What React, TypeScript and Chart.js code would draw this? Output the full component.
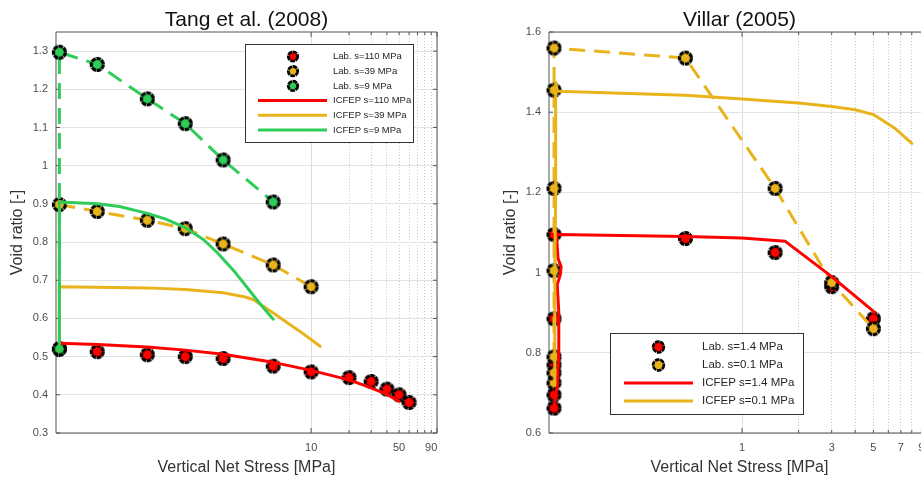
import React, { useEffect, useRef } from 'react';
import { Chart, registerables } from 'chart.js';

Chart.register(...registerables);

const FONT = '"Liberation Sans", Arial, Helvetica, sans-serif';

const RED = '#ff0000';
const YEL = '#e9b31c';
const GRN = '#2ecc58';

// ---------- Tang et al. (2008) ----------
const tangXTicks = [10, 20, 30, 40, 50, 60, 70, 80, 90, 100];
const tangXLabels = [10, 50, 90];
const tangYTicks = [0.3, 0.4, 0.5, 0.6, 0.7, 0.8, 0.9, 1, 1.1, 1.2, 1.3];

const tangLab110X = [0.1, 0.2, 0.5, 1, 2, 5, 10, 20, 30, 40, 50, 60];
const tangLab110Y = [0.52, 0.513, 0.505, 0.5, 0.495, 0.475, 0.46, 0.445, 0.435, 0.415, 0.4, 0.38];
const tangLab39X = [0.1, 0.2, 0.5, 1, 2, 5, 10];
const tangLab39Y = [0.898, 0.88, 0.857, 0.835, 0.795, 0.74, 0.683];
const tangLab9X = [0.1, 0.1, 0.2, 0.5, 1, 2, 5];
const tangLab9Y = [0.52, 1.297, 1.265, 1.175, 1.11, 1.015, 0.905];

const tangIcfep110X = [0.1, 0.2, 0.5, 1, 2, 5, 10, 20, 30, 40, 50];
const tangIcfep110Y = [0.535, 0.532, 0.525, 0.517, 0.506, 0.485, 0.464, 0.439, 0.418, 0.401, 0.383];
const tangIcfep39X = [0.1, 0.1, 0.5, 1, 2, 3, 3.5, 5, 8, 11.8];
const tangIcfep39Y = [0.52, 0.683, 0.68, 0.676, 0.667, 0.656, 0.649, 0.614, 0.568, 0.527];
const tangIcfep9X = [0.1, 0.1, 0.2, 0.3, 0.5, 0.7, 1, 1.4, 1.8, 2.5, 3.3, 4, 5];
const tangIcfep9Y = [0.52, 0.905, 0.9, 0.893, 0.875, 0.86, 0.838, 0.806, 0.772, 0.72, 0.67, 0.635, 0.598];

// ---------- Villar (2005) ----------
const villarXTicks = [1, 2, 3, 4, 5, 6, 7, 8, 9, 10];
const villarXLabels = [1, 3, 5, 7, 9];
const villarYTicks = [0.6, 0.8, 1, 1.2, 1.4, 1.6];

const villarLab14X = [0.1, 0.1, 0.1, 0.1, 0.1, 0.5, 1.5, 3, 5];
const villarLab14Y = [0.662, 0.695, 0.77, 0.885, 1.095, 1.085, 1.05, 0.965, 0.885];
const villarLab01X = [0.1, 0.1, 0.1, 0.1, 0.1, 0.1, 0.1, 0.5, 1.5, 3, 5];
const villarLab01Y = [0.725, 0.75, 0.79, 1.005, 1.21, 1.455, 1.56, 1.535, 1.21, 0.975, 0.86];

const villarIcfep14X = [0.1, 0.104, 0.106, 0.106, 0.104, 0.108, 0.109, 0.105, 0.103, 0.5, 1, 1.7, 3, 5.1];
const villarIcfep14Y = [0.66, 0.72, 0.8, 0.9, 0.97, 0.995, 1.015, 1.035, 1.095, 1.09, 1.086, 1.078, 0.99, 0.9];
const villarIcfep01X = [0.1, 0.101, 0.101, 0.102, 0.102, 0.104, 0.5, 1, 2, 3, 4, 5, 6.5, 8];
const villarIcfep01Y = [0.72, 0.8, 1.0, 1.2, 1.475, 1.452, 1.442, 1.433, 1.423, 1.414, 1.406, 1.394, 1.36, 1.322];

type Series = {
  label: string;
  xs: number[];
  ys: number[];
  color: string;
  kind: 'lab' | 'icfep';
  dashed?: boolean;
  order: number;
};

const MARKER_DASH = [4.6, 0.7];

function markerImage(color: string, r: number, bw: number): HTMLCanvasElement {
  const size = Math.ceil(2 * (r + bw)) + 2;
  const c = document.createElement('canvas');
  c.width = size;
  c.height = size;
  const g = c.getContext('2d') as CanvasRenderingContext2D;
  const m = size / 2;
  g.beginPath();
  g.arc(m, m, r, 0, Math.PI * 2);
  g.fillStyle = color;
  g.fill();
  g.setLineDash(MARKER_DASH);
  g.lineWidth = bw;
  g.strokeStyle = '#000';
  g.stroke();
  return c;
}

function buildDataset(s: Series): any {
  const isLab = s.kind === 'lab';
  return {
    label: s.label,
    data: s.xs.map((x, i) => ({ x, y: s.ys[i] })),
    showLine: !isLab || !!s.dashed,
    borderColor: s.color,
    backgroundColor: s.color,
    borderWidth: 3,
    borderDash: isLab ? [16, 9] : [],
    borderCapStyle: isLab ? 'butt' : 'round',
    borderJoinStyle: 'round',
    pointStyle: isLab ? markerImage(s.color, 6, 3.2) : 'circle',
    pointRadius: isLab ? 7.6 : 0,
    pointHoverRadius: isLab ? 7.6 : 0,
    pointBorderWidth: 0,
    pointBackgroundColor: s.color,
    pointBorderColor: '#000',
    tension: 0,
    clip: false,
    order: s.order,
    legendKind: isLab ? 'marker' : 'line',
  };
}

const framePlugin = {
  id: 'frame',
  beforeDatasetsDraw(chart: any, _a: any, opts: any) {
    const { ctx, chartArea } = chart;
    const { left, right, top, bottom } = chartArea;
    const xs = chart.scales.x;
    const ys = chart.scales.y;
    ctx.save();
    ctx.strokeStyle = '#555555';
    ctx.lineWidth = 1;
    ctx.beginPath();
    ctx.rect(left, top, right - left, bottom - top);
    ctx.stroke();
    ctx.beginPath();
    xs.ticks.forEach((t: any) => {
      const p = xs.getPixelForValue(t.value);
      const len = opts.majorX.includes(t.value) ? 5 : 3;
      ctx.moveTo(p, bottom);
      ctx.lineTo(p, bottom - len);
      ctx.moveTo(p, top);
      ctx.lineTo(p, top + len);
    });
    ys.ticks.forEach((t: any) => {
      const p = ys.getPixelForValue(t.value);
      ctx.moveTo(left, p);
      ctx.lineTo(left + 4, p);
      ctx.moveTo(right, p);
      ctx.lineTo(right - 4, p);
    });
    ctx.stroke();
    ctx.restore();
  },
  afterDraw(chart: any, _a: any, opts: any) {
    const { ctx, chartArea } = chart;
    ctx.save();
    ctx.font = `21px ${FONT}`;
    ctx.fillStyle = '#111111';
    ctx.textAlign = 'center';
    ctx.textBaseline = 'alphabetic';
    ctx.fillText(opts.title, (chartArea.left + chartArea.right) / 2, 26);
    ctx.restore();
  },
};

const boxLegendPlugin = {
  id: 'boxLegend',
  afterDatasetsDraw(chart: any, _a: any, opts: any) {
    const ctx = chart.ctx;
    const [x0, y0, x1, y1] = opts.box;
    ctx.save();
    ctx.fillStyle = '#ffffff';
    ctx.fillRect(x0, y0, x1 - x0, y1 - y0);
    ctx.strokeStyle = '#333333';
    ctx.lineWidth = 1;
    ctx.strokeRect(x0 + 0.5, y0 + 0.5, x1 - x0, y1 - y0);
    chart.data.datasets.forEach((ds: any, i: number) => {
      const y = opts.rows[i];
      if (ds.legendKind === 'marker') {
        ctx.beginPath();
        ctx.arc(opts.markerX, y, opts.markerR, 0, Math.PI * 2);
        ctx.fillStyle = ds.pointBackgroundColor;
        ctx.fill();
        ctx.setLineDash(MARKER_DASH);
        ctx.lineWidth = opts.markerBW;
        ctx.strokeStyle = '#000';
        ctx.stroke();
        ctx.setLineDash([]);
      } else {
        ctx.beginPath();
        ctx.moveTo(opts.lineX0, y);
        ctx.lineTo(opts.lineX1, y);
        ctx.lineWidth = 3;
        ctx.strokeStyle = ds.borderColor;
        ctx.stroke();
      }
      ctx.font = `${opts.fontSize}px ${FONT}`;
      ctx.fillStyle = '#262626';
      ctx.textAlign = 'left';
      ctx.textBaseline = 'middle';
      ctx.fillText(ds.label, opts.textX, y);
    });
    ctx.restore();
  },
};

type PanelCfg = {
  title: string;
  series: Series[];
  xMin: number;
  xMax: number;
  xTicks: number[];
  xLabels: number[];
  xMajor: number;
  yMin: number;
  yMax: number;
  yTicks: number[];
  legend: any;
};

function makeConfig(p: PanelCfg): any {
  return {
    type: 'scatter',
    data: { datasets: p.series.map(buildDataset) },
    plugins: [framePlugin, boxLegendPlugin],
    options: {
      responsive: false,
      animation: false,
      devicePixelRatio: 1,
      events: [],
      layout: { padding: { left: 0, top: 32, right: 23, bottom: 0 } },
      plugins: {
        legend: { display: false },
        title: { display: false },
        tooltip: { enabled: false },
        frame: { title: p.title, majorX: [p.xMajor, p.xTicks[p.xTicks.length - 1]] },
        boxLegend: p.legend,
      },
      scales: {
        x: {
          type: 'logarithmic',
          position: 'bottom',
          min: p.xMin,
          max: p.xMax,
          afterBuildTicks: (s: any) => {
            s.ticks = p.xTicks.map((v) => ({ value: v }));
          },
          afterFit: (s: any) => {
            s.height = 44;
          },
          ticks: {
            autoSkip: false,
            maxRotation: 0,
            minRotation: 0,
            padding: 8,
            color: '#4d4d4d',
            font: { family: FONT, size: 11 },
            callback: (v: any) => (p.xLabels.includes(Number(v)) ? String(v) : ''),
          },
          grid: {
            drawTicks: false,
            lineWidth: 1,
            color: (c: any) => (c.tick && c.tick.value === p.xMajor ? '#dcdcdc' : '#c9c9c9'),
          },
          border: {
            display: false,
            dash: (c: any) => (c.tick && c.tick.value !== p.xMajor ? [1, 2] : []),
          },
          title: {
            display: true,
            text: 'Vertical Net Stress [MPa]',
            color: '#333333',
            font: { family: FONT, size: 16 },
            padding: { top: 0, bottom: 0 },
          },
        },
        y: {
          type: 'linear',
          min: p.yMin,
          max: p.yMax,
          afterBuildTicks: (s: any) => {
            s.ticks = p.yTicks.map((v) => ({ value: v }));
          },
          afterFit: (s: any) => {
            s.width = 56;
          },
          ticks: {
            padding: 8,
            color: '#4d4d4d',
            font: { family: FONT, size: 11 },
            callback: (v: any) => String(Math.round(Number(v) * 10) / 10),
          },
          grid: { drawTicks: false, lineWidth: 1, color: '#e2e2e2' },
          border: { display: false },
          title: {
            display: true,
            text: 'Void ratio [-]',
            color: '#333333',
            font: { family: FONT, size: 16 },
            padding: { top: 8, bottom: 0 },
          },
        },
      },
    },
  };
}

const tangPanel: PanelCfg = {
  title: 'Tang et al. (2008)',
  series: [
    { label: 'Lab. s=110 MPa', xs: tangLab110X, ys: tangLab110Y, color: RED, kind: 'lab', order: 5 },
    { label: 'Lab. s=39 MPa', xs: tangLab39X, ys: tangLab39Y, color: YEL, kind: 'lab', dashed: true, order: 4 },
    { label: 'Lab. s=9 MPa', xs: tangLab9X, ys: tangLab9Y, color: GRN, kind: 'lab', dashed: true, order: 3 },
    { label: 'ICFEP s=110 MPa', xs: tangIcfep110X, ys: tangIcfep110Y, color: RED, kind: 'icfep', order: 2 },
    { label: 'ICFEP s=39 MPa', xs: tangIcfep39X, ys: tangIcfep39Y, color: YEL, kind: 'icfep', order: 1 },
    { label: 'ICFEP s=9 MPa', xs: tangIcfep9X, ys: tangIcfep9Y, color: GRN, kind: 'icfep', order: 0 },
  ],
  xMin: 0.094,
  xMax: 100,
  xTicks: tangXTicks,
  xLabels: tangXLabels,
  xMajor: 10,
  yMin: 0.3,
  yMax: 1.35,
  yTicks: tangYTicks,
  legend: {
    box: [245, 44, 413, 142],
    rows: [56.5, 71.2, 85.9, 100.6, 115.3, 130],
    markerX: 293,
    lineX0: 258,
    lineX1: 327,
    textX: 333,
    fontSize: 9.5,
    markerR: 4.7,
    markerBW: 2.8,
  },
};

const villarPanel: PanelCfg = {
  title: 'Villar (2005)',
  series: [
    { label: 'Lab. s=1.4 MPa', xs: villarLab14X, ys: villarLab14Y, color: RED, kind: 'lab', order: 3 },
    { label: 'Lab. s=0.1 MPa', xs: villarLab01X, ys: villarLab01Y, color: YEL, kind: 'lab', dashed: true, order: 2 },
    { label: 'ICFEP s=1.4 MPa', xs: villarIcfep14X, ys: villarIcfep14Y, color: RED, kind: 'icfep', order: 1 },
    { label: 'ICFEP s=0.1 MPa', xs: villarIcfep01X, ys: villarIcfep01Y, color: YEL, kind: 'icfep', order: 0 },
  ],
  xMin: 0.094,
  xMax: 10,
  xTicks: villarXTicks,
  xLabels: villarXLabels,
  xMajor: 1,
  yMin: 0.6,
  yMax: 1.6,
  yTicks: villarYTicks,
  legend: {
    box: [117, 333, 310, 414],
    rows: [347, 365, 383, 401],
    markerX: 165.5,
    lineX0: 131,
    lineX1: 200,
    textX: 209,
    fontSize: 11.5,
    markerR: 5.4,
    markerBW: 2.6,
  },
};

function Panel({ cfg, left }: { cfg: PanelCfg; left: number }) {
  const ref = useRef<HTMLCanvasElement | null>(null);
  useEffect(() => {
    if (!ref.current) return;
    const chart = new Chart(ref.current, makeConfig(cfg));
    return () => chart.destroy();
  }, [cfg]);
  return (
    <canvas
      ref={ref}
      width={460}
      height={477}
      style={{ position: 'absolute', left, top: 0, width: 460, height: 477 }}
    />
  );
}

export default function App() {
  return (
    <div
      style={{
        position: 'fixed',
        left: 0,
        top: 0,
        width: 921,
        height: 477,
        overflow: 'hidden',
        background: '#ffffff',
      }}
    >
      <Panel cfg={tangPanel} left={0} />
      <Panel cfg={villarPanel} left={493} />
    </div>
  );
}
